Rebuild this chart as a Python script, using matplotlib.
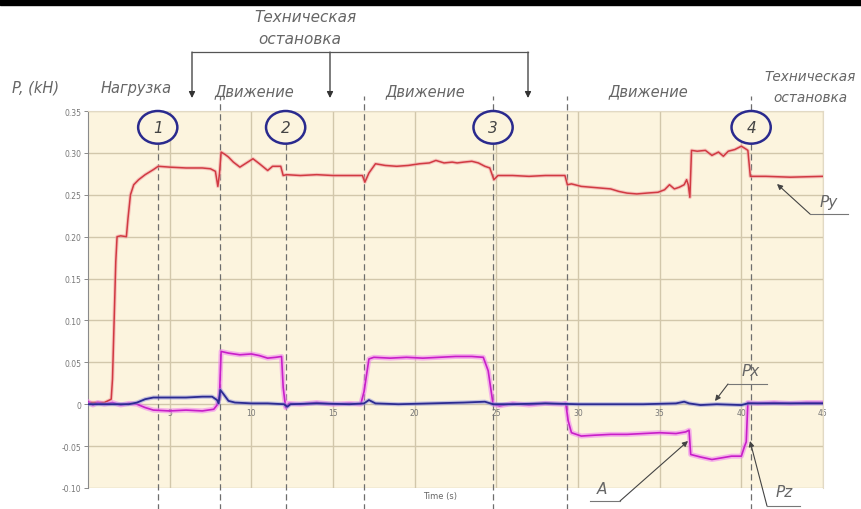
import matplotlib
matplotlib.use("Agg")
import matplotlib.pyplot as plt
from matplotlib.patches import Ellipse, Rectangle
from matplotlib.lines import Line2D

# Сила Py (красная)
t_py = [0, 1.0, 1.42, 1.5, 1.6, 1.7, 1.78, 2.0, 2.35, 2.45, 2.6, 2.8, 3.1, 3.5, 4.0, 4.3,
        5.0, 6.0, 7.0, 7.5, 7.8, 7.95, 8.05, 8.15, 8.4, 8.6, 8.9, 9.3, 9.7, 10.1, 10.5,
        11.0, 11.3, 11.8, 11.95, 12.15, 13.0, 14.0, 15.0, 16.0, 16.8, 16.95, 17.2, 17.6,
        18.2, 18.9, 19.6, 20.3, 20.9, 21.3, 21.8, 22.3, 22.6, 23.0, 23.5, 23.9, 24.3,
        24.6, 24.85, 25.1, 26.0, 27.0, 28.0, 29.2, 29.35, 29.6, 30.2, 30.8, 31.4, 32.0,
        32.5, 33.0, 33.6, 34.2, 34.9, 35.3, 35.6, 35.9, 36.2, 36.5, 36.65, 36.75, 36.85,
        36.95, 37.3, 37.8, 38.2, 38.6, 38.9, 39.2, 39.6, 40.0, 40.25, 40.4, 40.55, 41.5,
        43.0, 45.0]
py = [0.002, 0.002, 0.006, 0.03, 0.10, 0.17, 0.200, 0.201, 0.200, 0.222, 0.250, 0.262,
      0.268, 0.274, 0.280, 0.284, 0.283, 0.282, 0.282, 0.281, 0.278, 0.260, 0.275, 0.301,
      0.298, 0.295, 0.289, 0.283, 0.288, 0.293, 0.287, 0.279, 0.284, 0.284, 0.273, 0.274,
      0.273, 0.274, 0.273, 0.273, 0.273, 0.265, 0.276, 0.287, 0.285, 0.284, 0.285, 0.287,
      0.288, 0.291, 0.288, 0.289, 0.288, 0.289, 0.290, 0.288, 0.284, 0.282, 0.268, 0.273,
      0.273, 0.272, 0.273, 0.273, 0.262, 0.263, 0.260, 0.259, 0.258, 0.257, 0.254, 0.252,
      0.251, 0.252, 0.253, 0.256, 0.262, 0.257, 0.259, 0.262, 0.268, 0.262, 0.247, 0.303,
      0.302, 0.303, 0.297, 0.301, 0.296, 0.302, 0.304, 0.308, 0.305, 0.303, 0.272, 0.272,
      0.271, 0.272]

# Сила Pz (малиновая)
t_pz = [0, 0.3, 0.6, 1.0, 1.5, 2.0, 2.5, 3.0, 3.5, 4.0, 5.0, 6.0, 7.0, 7.7, 7.9, 8.05,
        8.15, 8.6, 9.3, 10.0, 10.5, 11.0, 11.5, 11.85, 11.95, 12.1, 12.3, 13.0, 14.0, 15.0,
        16.0, 16.7, 16.9, 17.2, 17.5, 18.5, 19.5, 20.5, 21.5, 22.5, 23.5, 24.2, 24.5, 24.8,
        25.2, 26.0, 27.0, 28.0, 29.0, 29.25, 29.4, 29.6, 30.2, 31.0, 32.0, 33.0, 34.0, 35.0,
        36.0, 36.6, 36.8, 36.9, 37.5, 38.2, 38.8, 39.4, 40.0, 40.2, 40.3, 40.4, 41.0, 42.0,
        43.0, 44.0, 45.0]
pz = [0.003, -0.001, 0.002, 0.0, 0.002, -0.001, 0.001, 0.0, -0.004, -0.007, -0.008,
      -0.007, -0.008, -0.006, -0.001, 0.010, 0.063, 0.061, 0.059, 0.060, 0.058, 0.055,
      0.056, 0.057, 0.020, -0.004, 0.001, 0.0, 0.002, 0.0, 0.001, 0.0, 0.015, 0.054, 0.056,
      0.055, 0.056, 0.055, 0.056, 0.057, 0.057, 0.056, 0.040, 0.0, -0.002, 0.001, -0.001,
      0.001, 0.0, 0.001, -0.020, -0.034, -0.038, -0.037, -0.036, -0.036, -0.035, -0.034,
      -0.035, -0.033, -0.031, -0.060, -0.063, -0.066, -0.064, -0.062, -0.062, -0.050,
      -0.045, 0.002, 0.001, 0.002, 0.001, 0.002, 0.002]

# Сила Px (синяя)
t_px = [0, 2.5, 3.0, 3.5, 4.0, 5.0, 6.0, 7.0, 7.6, 7.9, 8.0, 8.1, 8.3, 8.6, 9.0, 10.0,
        11.0, 12.0, 12.2, 12.4, 14.0, 16.0, 16.9, 17.2, 17.6, 19.0, 21.0, 23.0, 24.3, 24.8,
        26.0, 28.0, 30.0, 32.0, 34.0, 36.0, 36.5, 36.8, 37.5, 38.5, 40.0, 40.4, 42.0, 45.0]
px = [0.0, 0.0, 0.002, 0.006, 0.008, 0.008, 0.008, 0.009, 0.009, 0.005, 0.001, 0.017,
      0.012, 0.004, 0.002, 0.001, 0.001, 0.0, -0.003, 0.0, 0.001, 0.0, 0.001, 0.005, 0.001,
      0.0, 0.001, 0.002, 0.003, 0.0, 0.0, 0.001, 0.0, 0.0, 0.0, 0.001, 0.003, 0.001,
      -0.001, 0.0, -0.001, 0.001, 0.001, 0.001]

y_ticks = [0.35, 0.30, 0.25, 0.20, 0.15, 0.10, 0.05, 0, -0.05, -0.10]
y_labels = ["0.35", "0.30", "0.25", "0.20", "0.15", "0.10", "0.05", "0", "-0.05", "-0.10"]
x_ticks = [5, 10, 15, 20, 25, 30, 35, 40, 45]

# границы этапов и номера точек
stage_t = [4.27, 8.1, 12.1, 16.9, 24.8, 29.3, 40.6]
point_t = [4.27, 12.1, 24.8, 40.6]
point_n = ["1", "2", "3", "4"]

W, H = 862, 510
fig = plt.figure(figsize=(W / 100, H / 100), dpi=100)
ax = fig.add_axes([88 / W, 1 - 489 / H, (823 - 88) / W, (489 - 112) / H])

ax.set_facecolor("#fcf4de")
ax.set_xlim(0, 45)
ax.set_ylim(-0.10, 0.35)

ax.set_yticks(y_ticks)
ax.set_yticklabels(y_labels)
ax.set_xticks(x_ticks)
ax.grid(True, color="#d2c7ab", lw=1.0)
ax.set_axisbelow(True)

ax.spines["bottom"].set_position(("data", 0))
ax.spines["bottom"].set_visible(False)
for s in ["top", "right"]:
    ax.spines[s].set_color("#e2d9c4")
ax.spines["left"].set_color("#8a8a8a")
ax.tick_params(axis="x", length=0, pad=3, labelsize=5.5, labelcolor="#777777")
ax.tick_params(axis="y", length=3, width=0.7, color="#8a8a8a", pad=2,
               labelsize=5.5, labelcolor="#777777")

# кривые сил
ax.plot(t_py, py, color="#f2a7a7", lw=2.6, alpha=0.6, zorder=3)
ax.plot(t_py, py, color="#d13a42", lw=1.1, zorder=4)
ax.plot(t_pz, pz, color="#f07cf0", lw=3.6, alpha=0.55, zorder=3)
ax.plot(t_pz, pz, color="#c81ec8", lw=1.2, zorder=4)
ax.plot(t_px, px, color="#8c8cdc", lw=3.0, alpha=0.5, zorder=5)
ax.plot(t_px, px, color="#2b2b92", lw=1.3, zorder=6)

# пунктирные границы этапов
tops = [1.0, 1.04, 1.0, 1.04, 1.04, 1.04, 1.04]
for t, top in zip(stage_t, tops):
    ax.axvline(t, ymin=-0.06, ymax=top, color="#6e6e6e", lw=0.9,
               ls=(0, (5, 3)), clip_on=False, zorder=2)

# номера точек в эллипсах
for t, n in zip(point_t, point_n):
    ax.add_patch(Ellipse((t, 0.3305), 2.4, 0.039, facecolor="#fcf4de",
                         edgecolor="#2a2a8e", lw=1.8, zorder=7, clip_on=False))
    ax.text(t, 0.3305, n, ha="center", va="center", fontsize=11, style="italic",
            color="#444444", zorder=8)


def fp(x, y):
    return (x / W, 1 - y / H)


txt = dict(style="italic", color="#666666", family=["Liberation Sans Narrow", "DejaVu Sans"])
fig.text(*fp(305, 18), "Техническая", ha="center", va="center", fontsize=11, **txt)
fig.text(*fp(300, 40), "остановка", ha="center", va="center", fontsize=11, **txt)
fig.text(*fp(36, 88), "P, (kH)", ha="center", va="center", fontsize=10.5, **txt)
fig.text(*fp(136, 88), "Нагрузка", ha="center", va="center", fontsize=10.5, **txt)
fig.text(*fp(254, 92), "Движение", ha="center", va="center", fontsize=10.5, **txt)
fig.text(*fp(425, 92), "Движение", ha="center", va="center", fontsize=10.5, **txt)
fig.text(*fp(648, 92), "Движение", ha="center", va="center", fontsize=10.5, **txt)
fig.text(*fp(810, 77), "Техническая", ha="center", va="center", fontsize=9.8, **txt)
fig.text(*fp(810, 98), "остановка", ha="center", va="center", fontsize=9.8, **txt)
fig.text(*fp(440, 497), "Time (s)", ha="center", va="center", fontsize=6, color="#666666")

# скобка технической остановки
fig.add_artist(Line2D([192 / W, 528 / W], [1 - 53 / H] * 2, color="#555555", lw=0.9))
for x in [192, 330, 528]:
    ax.annotate("", xy=fp(x, 99), xytext=fp(x, 53), xycoords="figure fraction",
                textcoords="figure fraction",
                arrowprops=dict(arrowstyle="-|>", color="#333333", lw=0.9,
                                mutation_scale=9, shrinkA=0, shrinkB=0))


def leader(tip, elbow, end, label, lpos):
    fig.add_artist(Line2D([elbow[0] / W, end[0] / W], [1 - elbow[1] / H, 1 - end[1] / H],
                          color="#777777", lw=0.8))
    ax.annotate("", xy=fp(*tip), xytext=fp(*elbow), xycoords="figure fraction",
                textcoords="figure fraction",
                arrowprops=dict(arrowstyle="-|>", color="#444444", lw=0.8,
                                mutation_scale=8, shrinkA=0, shrinkB=0))
    fig.text(*fp(*lpos), label, ha="center", va="center", fontsize=11, **txt)


leader((777, 185), (810, 215), (848, 215), "Py", (829, 203))
leader((715, 402), (728, 385), (767, 385), "Px", (751, 372))
leader((688, 442), (620, 502), (590, 502), "A", (602, 490))
leader((750, 442), (767, 507), (800, 507), "Pz", (784, 493))

# чёрная полоса сверху
fig.add_artist(Rectangle((0, 1 - 6 / H), 1, 6 / H, color="black", transform=fig.transFigure))

fig.savefig("out.png", dpi=100)
